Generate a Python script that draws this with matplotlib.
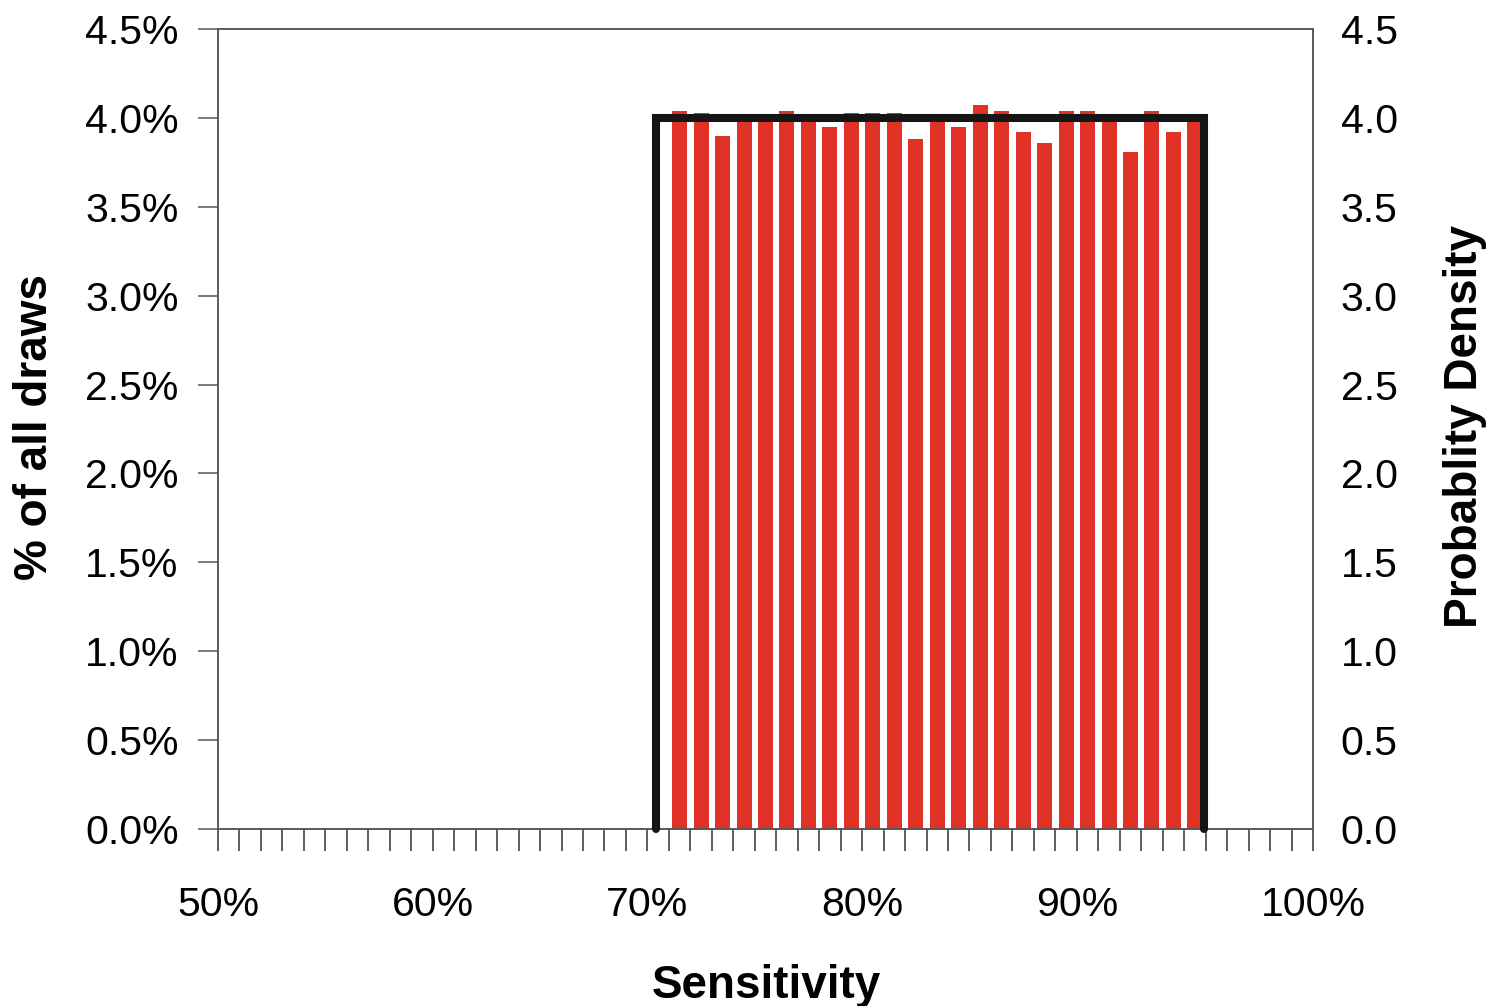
import matplotlib
matplotlib.use('Agg')
import matplotlib.pyplot as plt

plt.rcParams['font.family'] = ['Liberation Sans', 'DejaVu Sans']

# Category bins of sensitivity (%), 51 categories 50..100
categories = list(range(50, 101))
# Bins that have bars and their share of all draws (%)
bar_bins = list(range(71, 96))
bar_pct = [4.04, 4.03, 3.90, 4.00, 4.00, 4.04, 4.00, 3.95, 4.03, 4.03,
           4.03, 3.88, 4.00, 3.95, 4.07, 4.04, 3.92, 3.86, 4.04, 4.04,
           4.00, 3.81, 4.04, 3.92, 4.00]
x_tick_labels = ['50%', '60%', '70%', '80%', '90%', '100%']
left_ticks = [0.0, 0.5, 1.0, 1.5, 2.0, 2.5, 3.0, 3.5, 4.0, 4.5]
right_ticks = [0.0, 0.5, 1.0, 1.5, 2.0, 2.5, 3.0, 3.5, 4.0, 4.5]
# Uniform(0.70, 0.95) probability density
pdf_x = [0.70, 0.70, 0.95, 0.95]
pdf_y = [0.0, 4.0, 4.0, 0.0]

W, H = 1494, 1006
fig = plt.figure(figsize=(W / 100, H / 100), dpi=100)
L, R, B, T = 218 / W, 1313 / W, (H - 829) / H, (H - 29) / H
ax = fig.add_axes([L, B, R - L, T - B])

gray = '#555555'
red = '#E03226'

# bars on category axis
pos = [categories.index(b) + 0.5 for b in bar_bins]
ax.bar(pos, bar_pct, width=0.7, color=red, edgecolor='none', zorder=2)
ax.set_xlim(0, len(categories))
ax.set_ylim(0, 4.5)

tick_pos = list(range(0, len(categories) + 1))
ax.set_xticks(tick_pos)
lab_at = {0: x_tick_labels[0], 10: x_tick_labels[1], 20: x_tick_labels[2],
          30: x_tick_labels[3], 40: x_tick_labels[4], len(categories): x_tick_labels[5]}
ax.set_xticklabels([lab_at.get(p, '') for p in tick_pos])
ax.set_yticks(left_ticks)
ax.set_yticklabels(['%.1f%%' % v for v in left_ticks])

ax.tick_params(axis='x', direction='out', length=15.8, width=1.1, color='#333333',
               labelsize=29.5, pad=25)
ax.tick_params(axis='y', direction='out', length=14.4, width=1.1, color=gray,
               labelsize=29.5, pad=14)
for s in ax.spines.values():
    s.set_color(gray)
    s.set_linewidth(1.1)

ax2 = ax.twinx()
ax2.set_ylim(0, 4.5)
ax2.set_yticks(right_ticks)
ax2.set_yticklabels(['%.1f' % v for v in right_ticks])
ax2.tick_params(axis='y', length=0, labelsize=29.5, pad=20)
for s in ax2.spines.values():
    s.set_color(gray)
    s.set_linewidth(1.1)

ax3 = ax2.twiny()
ax3.set_xlim(0.5, 1.0)
ax3.set_xticks([])
for s in ax3.spines.values():
    s.set_visible(False)
ax3.plot(pdf_x, pdf_y, color='#151515', lw=5.8, solid_capstyle='round',
         solid_joinstyle='miter', clip_on=False, zorder=5)

fig.text(35 / W, 1 - 427 / H, '% of all draws', rotation=90, ha='center',
         va='center', fontsize=33, fontweight='bold')
fig.text(1465 / W, 1 - 427 / H, 'Probablity Density', rotation=90, ha='center',
         va='center', fontsize=33, fontweight='bold')
fig.text(766 / W, 8 / H, 'Sensitivity', ha='center', va='baseline',
         fontsize=33, fontweight='bold')

fig.savefig('out.png', dpi=100)
